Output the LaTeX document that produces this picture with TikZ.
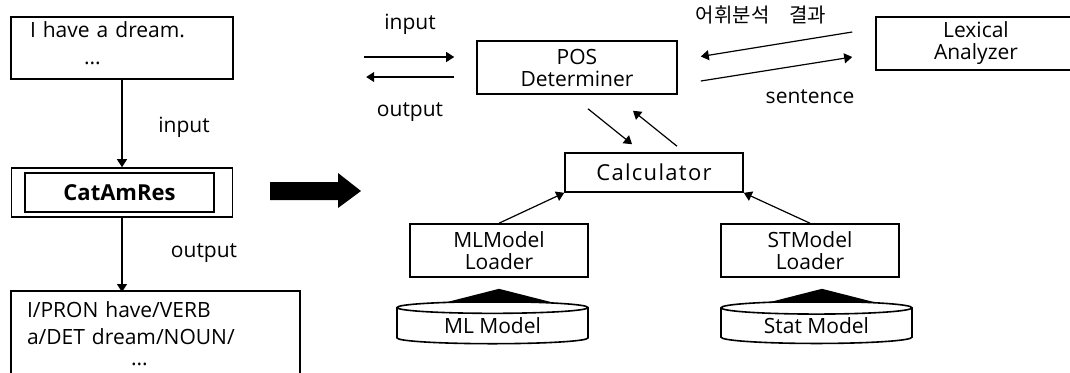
\documentclass[tikz,border=0pt]{standalone}
\usepackage{fontspec}
\setmainfont{Open Sans}
\newfontfamily\kor{Noto Sans CJK KR}
\usetikzlibrary{arrows.meta,shapes.geometric,calc}
\begin{document}
\begin{tikzpicture}[x=0.5pt, y=-0.5pt, font=\fontsize{10.5}{11}\selectfont,
        box/.style={draw, line width=0.8pt, inner sep=0pt},
        arr/.style={line width=0.6pt, -{Triangle[length=4pt,width=5pt]}},
        lbl/.style={inner sep=0pt},
        db/.style={draw, line width=0.8pt, cylinder, shape border rotate=90, aspect=0.12, inner sep=0pt}]
        \useasboundingbox (0,0) rectangle (1070,372);

        \node[box, minimum width=111pt, minimum height=31pt, align=left, text width=92pt] (src) at (122,48) {I have a dream.\\[2.5pt]\hspace*{27pt}...\rule[-4.5pt]{0pt}{4.5pt}};
        \node[box, minimum width=110.5pt, minimum height=24.5pt] (corebox) at (122,192.5) {};
        \node[box, minimum width=94.5pt, minimum height=19.5pt, font=\fontsize{11}{13}\selectfont\bfseries] (core) at (119.5,192.5) {CatAmRes};
        \node[box, minimum width=144.5pt, minimum height=43pt, align=left, text width=128.5pt] (tags) at (155.5,334) {I/PRON have/VERB\\[2.5pt]a/DET dream/NOUN/\\[-0.5pt]\hspace*{52pt}...};
        \coordinate (tagtop) at (122,292);

        \draw[arr] (src.south) -- (src.south |- corebox.north);
        \draw[arr] (corebox.south) -- (tagtop);
        \node[lbl] (lblin) at (184,127) {input};
        \node[lbl] (lblout) at (204,253) {output};

        \fill (270,182) -- (338,182) -- (338,173) -- (361,191) -- (338,208) -- (338,200) -- (270,200) -- cycle;

        \node[box, minimum width=100pt, minimum height=26.5pt, align=center] (pos) at (577,67.5) {POS\\Determiner};
        \node[box, minimum width=110pt, minimum height=26.5pt, align=center] (lex) at (986,43.5) {Lexical\hspace*{10pt}\\Analyzer\hspace*{10pt}};
        \node[box, minimum width=89pt, minimum height=19.5pt, font=\fontsize{11}{13}\selectfont\addfontfeature{LetterSpace=6}] (calc) at (654,172.5) {Calculator};
        \node[box, minimum width=89pt, minimum height=26.5pt, align=center] (mll) at (499,250.5) {MLModel\\Loader};
        \node[box, minimum width=89pt, minimum height=26.5pt, align=center] (stl) at (810,250.5) {STModel\\Loader};
        \node[db, minimum width=95.5pt, minimum height=21pt] (mlm) at (492.5,326) {ML Model};
        \node[db, minimum width=95.5pt, minimum height=21pt] (stm) at (816.5,326) {Stat Model};

        \coordinate (inL) at ($(pos.west)+(-112,-10.5)$);
        \coordinate (inR) at ($(pos.west)+(-22,-10.5)$);
        \coordinate (outR) at ($(pos.west)+(-22,9.5)$);
        \coordinate (outL) at ($(pos.west)+(-110,9.5)$);
        \draw[arr] (inL) -- (inR);
        \draw[arr] (outR) -- (outL);
        \node[lbl] (posin) at (410,24) {input};
        \node[lbl] (posout) at (410,112) {output};

        \coordinate (lexA) at ($(lex.west)+(-23,-11.5)$);
        \coordinate (posA) at ($(pos.east)+(23,-11)$);
        \coordinate (posB) at ($(pos.east)+(23,13.5)$);
        \coordinate (lexB) at ($(lex.west)+(-23,13.5)$);
        \draw[arr] (lexA) -- (posA);
        \draw[arr] (posB) -- (lexB);
        \node[lbl, font=\kor] (res) at (761,15) {어휘분석\hspace{1em}결과};
        \node[lbl] (sen) at (810,97) {sentence};

        \coordinate (pc1) at ($(pos.south)+(11,14)$);
        \coordinate (cp1) at ($(calc.north)+(-22,-8)$);
        \coordinate (cp2) at ($(calc.north)+(23,-6)$);
        \coordinate (pc2) at ($(pos.south)+(56,16)$);
        \draw[arr] (pc1) -- (cp1);
        \draw[arr] (cp2) -- (pc2);
        \draw[arr] (mll.north) -- (calc.south west);
        \draw[arr] (stl.north) -- (calc.south east);

        \fill ($(mll.south)+(-55,25)$) -- ($(mll.south)+(55,25)$) -- ($(mll.south)+(0,11)$) -- cycle;
        \fill ($(stl.south)+(-43,25)$) -- ($(stl.south)+(67,25)$) -- ($(stl.south)+(12,11)$) -- cycle;
\end{tikzpicture}
\end{document}
